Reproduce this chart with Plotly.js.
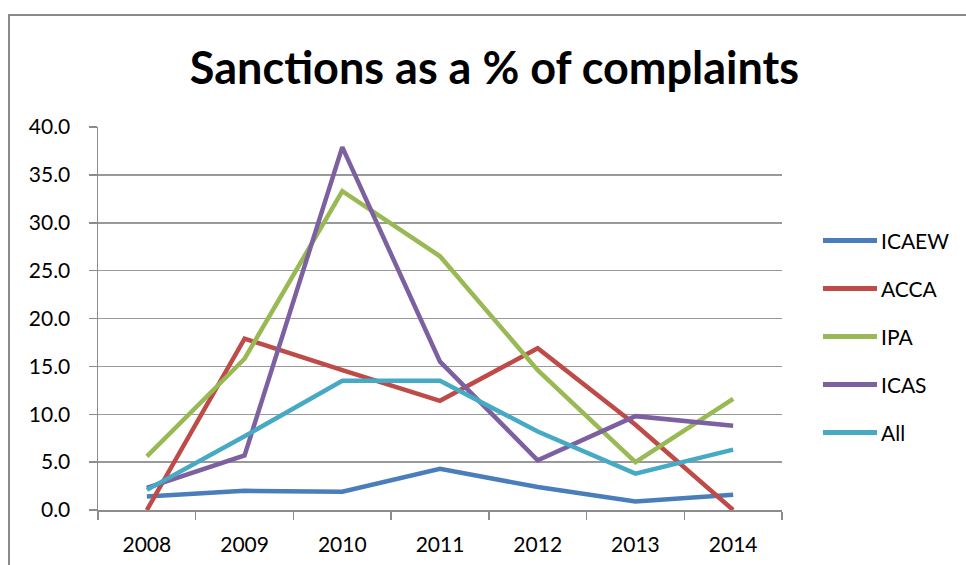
<!DOCTYPE html>
<html>
<head>
<meta charset="utf-8">
<script src="https://cdn.plot.ly/plotly-3.0.1.min.js"></script>
<style>html,body{margin:0;padding:0;background:#fff;}#chart{width:966px;height:565px;}</style>
</head>
<body>
<div id="chart"></div>
<script>
const years = ["2008", "2009", "2010", "2011", "2012", "2013", "2014"];
const seriesNames = ["ICAEW", "ACCA", "IPA", "ICAS", "All"];
const icaew = [1.4, 2.0, 1.9, 4.3, 2.4, 0.9, 1.6];
const acca  = [0.0, 17.9, 14.6, 11.4, 16.9, 8.9, 0.0];
const ipa   = [5.6, 15.8, 33.3, 26.5, 14.6, 5.0, 11.6];
const icas  = [2.3, 5.7, 37.9, 15.5, 5.2, 9.8, 8.8];
const all   = [2.1, 7.7, 13.5, 13.5, 8.2, 3.8, 6.3];
const seriesValues = [icaew, acca, ipa, icas, all];
const colors = ["#4A7EBB", "#BE4B48", "#98B954", "#7D60A0", "#46AAC5"];

const FONT = "Lato, 'Open Sans', sans-serif";

const traces = seriesNames.map((n, i) => ({
  type: "scatter", mode: "lines", name: n,
  x: years, y: seriesValues[i],
  line: {color: colors[i], width: 4.5},
  showlegend: false, hoverinfo: "skip"
}));

// plot area px: x 98..782, y 127..510
const L = 98, R = 782, T = 127, B = 510;
const px2x = p => (p - L) / (R - L);
const px2y = p => (B - p) / (B - T);

const shapes = [{
  type: "rect", xref: "paper", yref: "paper", layer: "below",
  x0: px2x(9), x1: px2x(980), y0: px2y(580), y1: px2y(15),
  line: {color: "#8a8a8a", width: 2}, fillcolor: "rgba(0,0,0,0)"
}];
const annotations = [];
seriesNames.forEach((n, i) => {
  const yy = px2y(240.5 + i * 48);
  shapes.push({type: "line", xref: "paper", yref: "paper",
    x0: px2x(823), x1: px2x(877), y0: yy, y1: yy,
    line: {color: colors[i], width: 5}});
  annotations.push({xref: "paper", yref: "paper", x: px2x(879), y: yy,
    xanchor: "left", yanchor: "middle", text: n, showarrow: false,
    font: {family: FONT, size: 21, color: "#000"}});
});

const layout = {
  width: 966, height: 565,
  margin: {l: L, r: 966 - R, t: T, b: 565 - B, pad: 0},
  paper_bgcolor: "#fff", plot_bgcolor: "#fff",
  showlegend: false,
  title: {text: "<b>Sanctions as a % of complaints</b>", font: {family: FONT, size: 45, color: "#000"},
    x: px2x(494.5) , xref: "paper", xanchor: "center", y: 1 - 68 / 565, yref: "container", yanchor: "middle"},
  xaxis: {type: "category", range: [-0.5, 6.5], tickson: "boundaries", ticks: "outside", ticklen: 8, tickwidth: 1.5, tickcolor: "#8c8c8c",
    showline: true, linecolor: "#8c8c8c", linewidth: 1.5, showgrid: false, zeroline: false,
    tickfont: {family: FONT, size: 21, color: "#000"}, ticklabelstandoff: 15, fixedrange: true},
  yaxis: {range: [0, 40], tickvals: [0, 5, 10, 15, 20, 25, 30, 35, 40], tickformat: ".1f",
    ticks: "outside", ticklen: 8, tickwidth: 1.5, tickcolor: "#8c8c8c",
    showline: true, linecolor: "#8c8c8c", linewidth: 1.5,
    showgrid: true, gridcolor: "#999999", gridwidth: 1.5, zeroline: false,
    tickfont: {family: FONT, size: 21, color: "#000"}, ticklabelstandoff: 14, fixedrange: true},
  shapes: shapes,
  annotations: annotations
};

Plotly.newPlot("chart", traces, layout, {staticPlot: true, displayModeBar: false});
</script>
</body>
</html>
